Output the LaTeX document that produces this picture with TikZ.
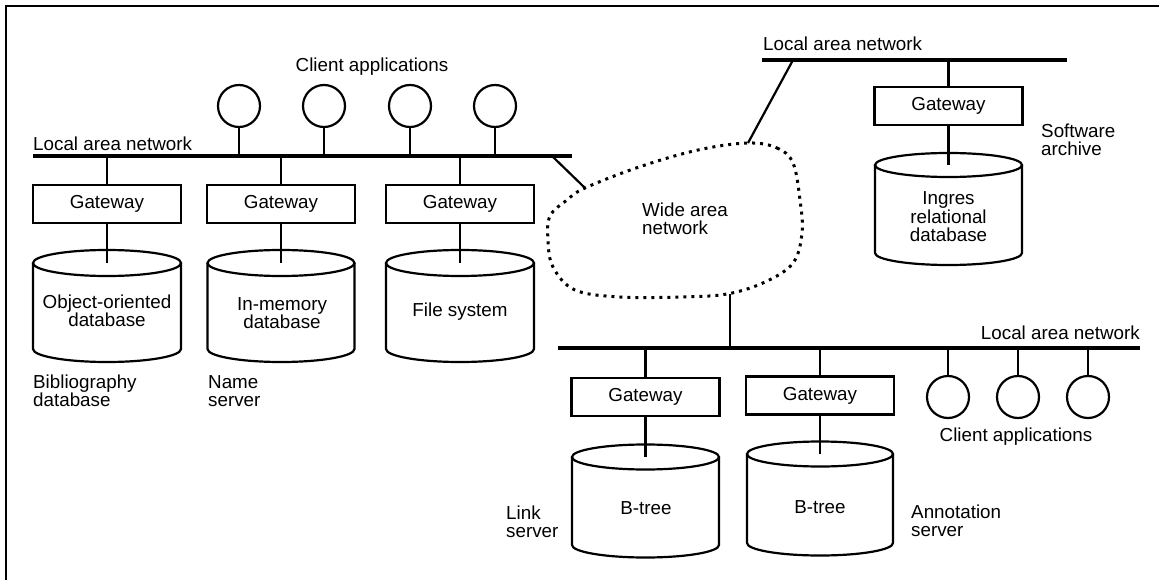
\documentclass[tikz,border=0pt]{standalone}
\usepackage{fontspec}
\setmainfont{Liberation Sans}
\newcommand\labfont{\fontsize{18.8pt}{18.5pt}\selectfont}
\tikzset{
  gw/.style={draw, line width=2.2pt, minimum width=148pt, minimum height=38pt, inner sep=0pt, font=\labfont},
  client/.style={draw, circle, line width=2.2pt, minimum size=42pt, inner sep=0pt},
  lan/.style={line width=3.5pt},
  wire/.style={line width=2.2pt},
  lab/.style={inner sep=0pt, font=\labfont, align=left},
  cyltext/.style={inner sep=0pt, font=\labfont, align=center},
  wan/.style={line width=3pt, dash pattern=on 3pt off 5pt},
  frameline/.style={line width=2pt},
}
% #1 name of top-centre coordinate, #2 cx, #3 rx, #4 ytop, #5 ybot, #6 ry
\newcommand\dbcyl[6]{%
  \draw[wire] (#2-#3,#4) -- (#2-#3,#5) arc[start angle=180,end angle=360,x radius=#3pt,y radius=#6pt] -- (#2+#3,#4);
  \draw[wire] (#2,#4) ellipse[x radius=#3pt, y radius=#6pt];
  \coordinate (#1) at (#2,#4);
}
\begin{document}
\begin{tikzpicture}[x=1pt,y=1pt]
\useasboundingbox (0,0) rectangle (1159,-580);
% frame
\draw[frameline] (6,-580) -- (6,-6) -- (1159,-6);

% ---- LAN coordinates
\coordinate (lan1a) at (33,-156);
\coordinate (lan1b) at (572,-156);
\coordinate (lan2a) at (762,-60);
\coordinate (lan2b) at (1067,-60);
\coordinate (lan3a) at (558,-348);
\coordinate (lan3b) at (1140,-348);

% ---- left group
\node[lab] (t1) at (372,-67) {Client applications};
\node[client] (c1) at (239,-106) {};
\node[client] (c2) at (324,-106) {};
\node[client] (c3) at (410,-106) {};
\node[client] (c4) at (495,-106) {};
\foreach \c in {c1,c2,c3,c4} \draw[wire] (\c.south) -- (\c.south |- lan1a);
\node[lab, anchor=west] (l1) at (33,-144) {Local area network};

\node[gw] (gw1) at (107,-204) {Gateway};
\node[gw] (gw2) at (281,-204) {Gateway};
\node[gw] (gw3) at (460,-204) {Gateway};

\dbcyl{cy1}{107}{74}{-263}{-349}{13}
\dbcyl{cy2}{281}{73.5}{-263}{-349}{13}
\dbcyl{cy3}{460}{74}{-263}{-349}{13}
\node[cyltext] (d1) at (107,-311) {Object-oriented\\database};
\node[cyltext] (d2) at (282,-313) {In-memory\\database};
\node[cyltext] (d3) at (460,-312) {File system};
\foreach \g/\d in {gw1/cy1,gw2/cy2,gw3/cy3}{
  \draw[wire] (\g.north) -- (\g.north |- lan1a);
  \draw[wire] (\g.south) -- (\d);
}
\draw[lan] (lan1a) -- (lan1b);
\node[lab, anchor=west] (n1) at (33,-391) {Bibliography\\database};
\node[lab, anchor=west] (n2) at (208,-391) {Name\\server};

% ---- wide area network
\draw[wan] plot[smooth cycle, tension=0.6] coordinates {
 (748,-143) (777,-148) (793,-163) (800,-200) (802,-233) (793,-263) (765,-282)
 (727,-294) (680,-297) (620,-297) (575,-290) (553,-267) (548,-240) (550,-216)
 (567,-200) (585,-188) (639,-167) (698,-150)};
\node[lab] (wan) at (642,-219) [anchor=west] {Wide area\\network};
\coordinate (w1) at (585,-188);
\coordinate (w2) at (748,-143);
\coordinate (w3) at (730,-294);
\coordinate (lan1j) at (552,-156);
\coordinate (lan2j) at (793,-60);
\draw[wire] (lan1j) -- (w1);
\draw[wire] (lan2j) -- (w2);
\draw[wire] (w3) -- (w3 |- lan3a);

% ---- top right group
\node[lab, anchor=west] (l2) at (763,-44) {Local area network};
\node[gw] (gw6) at (948.5,-106) {Gateway};
\dbcyl{cy6}{948.5}{73.5}{-165}{-253}{12}
\node[cyltext] (d6) at (948.5,-217) {Ingres\\relational\\database};
\draw[wire] (gw6.north) -- (gw6.north |- lan2a);
\draw[wire] (gw6.south) -- (cy6);
\draw[lan] (lan2a) -- (lan2b);
\node[lab, anchor=west] (n6) at (1041,-140) {Software\\archive};

% ---- bottom group
\node[lab, anchor=east] (l3) at (1140,-333) {Local area network};
\node[gw] (gw4) at (645.5,-397) {Gateway};
\node[gw] (gw5) at (820,-395.5) {Gateway};
\dbcyl{cy4}{645.5}{73.5}{-457}{-545}{12.5}
\dbcyl{cy5}{820}{73}{-454}{-543}{12.5}
\node[cyltext] (d4) at (646,-508) {B-tree};
\node[cyltext] (d5) at (820,-507) {B-tree};
\foreach \g/\d in {gw4/cy4,gw5/cy5}{
  \draw[wire] (\g.north) -- (\g.north |- lan3a);
  \draw[wire] (\g.south) -- (\d);
}
\node[client] (c5) at (948,-397) {};
\node[client] (c6) at (1018,-397) {};
\node[client] (c7) at (1088,-397) {};
\foreach \c in {c5,c6,c7} \draw[wire] (\c.north) -- (\c.north |- lan3a);
\draw[lan] (lan3a) -- (lan3b);
\node[lab] (t2) at (1016,-437) {Client applications};
\node[lab, anchor=west] (n4) at (506,-522) {Link\\server};
\node[lab, anchor=west] (n5) at (911,-521) {Annotation\\server};
\end{tikzpicture}
\end{document}
